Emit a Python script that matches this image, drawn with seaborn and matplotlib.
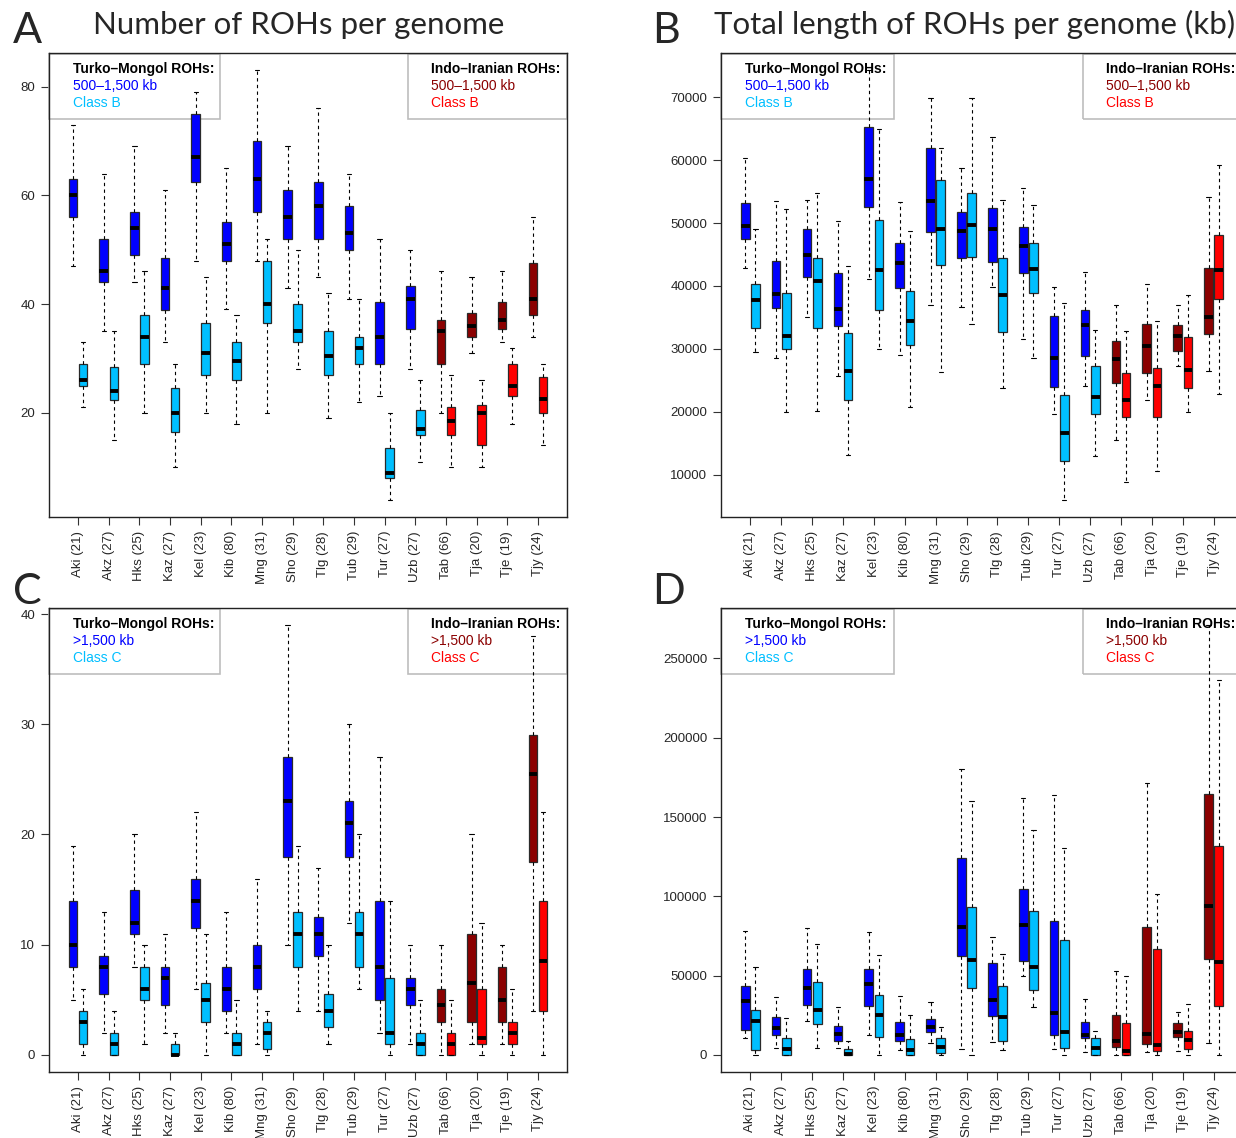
import numpy as np
import pandas as pd
import matplotlib
matplotlib.use("Agg")
import matplotlib.pyplot as plt
import seaborn as sns
from matplotlib.patches import Rectangle

# ---------------- data ----------------
populations = ["Aki (21)", "Akz (27)", "Hks (25)", "Kaz (27)", "Kel (23)", "Kib (80)",
               "Mng (31)", "Sho (29)", "Tlg (28)", "Tub (29)", "Tur (27)", "Uzb (27)",
               "Tab (66)", "Tja (20)", "Tje (19)", "Tjy (24)"]
turko_mongol = populations[:12]
indo_iranian = populations[12:]

# each entry: (lower whisker, Q1, median, Q3, upper whisker)
a_dark = [(47, 56, 60, 63, 73), (35, 44, 46, 52, 64), (44, 49, 54, 57, 69), (33, 38.9, 43, 48.5, 61),
          (48, 62.5, 67, 75, 79), (39, 48, 51, 55, 65), (48, 57, 63, 70, 83), (43, 52, 56, 61, 69),
          (45, 52, 58, 62.5, 76), (41, 50, 53, 58, 64), (23, 29, 34, 40.4, 52), (28, 35.5, 41, 43.4, 50),
          (20, 29, 35, 37, 46), (31, 34, 36, 38.4, 45), (33, 35.4, 37, 40.4, 46), (34, 38, 41, 47.5, 56)]
a_light = [(21, 25, 26, 29, 33), (15, 22.4, 24, 28.4, 35), (20, 29, 34, 38, 46), (10, 16.5, 20, 24.5, 29),
           (20, 27, 31, 36.5, 45), (18, 26, 29.5, 33, 38), (20, 36.5, 40, 48, 52), (28, 33, 35, 40, 50),
           (19, 27, 30.5, 35, 42), (22, 29, 32, 34, 41), (4, 8, 9, 13.5, 20), (11, 16, 17, 20.5, 26),
           (10, 16, 18.5, 21, 27), (10, 14, 20, 21.5, 26), (18, 23, 25, 29, 32), (14, 20, 22.5, 26.5, 29)]

b_dark = [(42800, 47500, 49500, 53200, 60300), (28600, 36500, 38700, 44000, 53500),
          (35000, 41500, 44900, 49000, 53600), (25700, 33600, 36400, 42100, 50300),
          (41100, 52500, 57000, 65200, 74300), (29100, 39600, 43600, 46800, 53400),
          (36900, 48500, 53500, 62000, 69800), (36600, 44400, 48800, 51700, 58700),
          (39900, 43800, 49000, 52400, 63600), (31600, 42000, 46300, 49300, 55600),
          (19600, 23900, 28600, 35200, 39800), (24100, 28900, 33800, 36200, 42200),
          (15500, 24600, 28400, 31300, 37000), (21800, 26100, 30500, 34000, 40300),
          (27300, 29600, 32000, 33800, 37000), (26400, 32300, 35000, 42800, 54200)]
b_light = [(29500, 33300, 37800, 40300, 49100), (19900, 29900, 32000, 38900, 52200),
           (20100, 33300, 40800, 44400, 54800), (13100, 21900, 26400, 32500, 43200),
           (30000, 36200, 42500, 50500, 64900), (20800, 30600, 34400, 39200, 48700),
           (26300, 43400, 49100, 56900, 62000), (33900, 44600, 49700, 54800, 69800),
           (23800, 32600, 38600, 44500, 53600), (28500, 38900, 42700, 46800, 52800),
           (6000, 12200, 16700, 22600, 37300), (13000, 19700, 22400, 27200, 33000),
           (8900, 19200, 21800, 26200, 32900), (10600, 19100, 24100, 27000, 34500),
           (19900, 23700, 26600, 31900, 38500), (22900, 38000, 42500, 48100, 59200)]

c_dark = [(5, 8, 10, 14, 19), (2, 5.5, 8, 9, 13), (8, 11, 12, 15, 20), (2, 4.5, 7, 8, 11),
          (6, 11.5, 14, 16, 22), (2, 4, 6, 8, 13), (1, 6, 8, 10, 16), (10, 18, 23, 27, 39),
          (4, 9, 11, 12.5, 17), (12, 18, 21, 23, 30), (2, 5, 8, 14, 27), (1, 4.5, 6, 7, 10),
          (0, 3, 4.5, 6, 10), (1, 3, 6.5, 11, 20), (1, 3, 5, 8, 10), (4, 17.5, 25.5, 29, 38)]
c_light = [(0, 1, 3, 4, 6), (0, 0, 1, 2, 4), (1, 5, 6, 8, 10), (0, 0, 0, 1, 2),
           (0, 3, 5, 6.5, 11), (0, 0, 1, 2, 5), (0, 0.5, 2, 3, 4), (4, 8, 11, 13, 19),
           (1, 2.5, 4, 5.5, 10), (6, 8, 11, 13, 20), (0, 1, 2, 7, 14), (0, 0, 1, 2, 5),
           (0, 0, 1, 2, 5), (0, 1, 1.5, 6, 12), (0, 1, 2, 3, 6), (0, 4, 8.5, 14, 22)]

d_dark = [(10700, 15800, 33800, 43300, 78400), (4000, 12600, 17000, 24000, 36300),
          (21400, 31300, 42000, 54200, 80000), (4000, 8400, 13200, 18300, 30300),
          (12200, 30500, 44700, 54200, 77700), (3200, 9000, 12800, 20800, 36800),
          (7600, 14500, 17400, 22300, 33600), (3400, 62200, 80500, 124000, 180500),
          (8200, 24400, 34500, 58000, 74000), (49600, 59000, 82100, 104600, 162000),
          (3400, 12400, 26300, 84500, 163900), (1900, 10300, 12200, 20800, 35100),
          (0, 4800, 9000, 25000, 52700), (1900, 7100, 13200, 80700, 171200),
          (2300, 11300, 14300, 20200, 26900), (7600, 60500, 94100, 164500, 271000)]
d_light = [(0, 2900, 21400, 28200, 55700), (0, 0, 3600, 10300, 23500),
           (4000, 19500, 28200, 46000, 70200), (0, 0, 300, 3800, 9000),
           (0, 11100, 25400, 37600, 63000), (0, 0, 3200, 9700, 24800),
           (0, 1300, 5000, 10700, 17400), (0, 42200, 59900, 93500, 160100),
           (3200, 9000, 24000, 43700, 63900), (30300, 41000, 55500, 90800, 141600),
           (0, 4000, 14300, 72500, 130500), (0, 0, 4000, 10900, 15100),
           (0, 0, 2700, 20200, 49800), (0, 2700, 6300, 66800, 101700),
           (0, 3800, 9500, 14900, 31900), (0, 31100, 58400, 131700, 236300)]

yticks_a = [20, 40, 60, 80]
yticks_b = [10000, 20000, 30000, 40000, 50000, 60000, 70000]
yticks_c = [0, 10, 20, 30, 40]
yticks_d = [0, 50000, 100000, 150000, 200000, 250000]

titles = ["Number of ROHs per genome", "Total length of ROHs per genome (kb)"]
size_labels = ["500\u20131,500 kb", ">1,500 kb"]
class_labels = ["Class B", "Class C"]

# ---------------- style ----------------
sns.set_style("ticks")
plt.rcParams["font.family"] = ["Liberation Sans", "DejaVu Sans"]

TM_DARK, TM_LIGHT = "#0000FF", "#00BFFF"
II_DARK, II_LIGHT = "#8B0000", "#FF0000"

W, H = 1236, 1138
fig = plt.figure(figsize=(W / 100, H / 100), dpi=100)


def make_df(dark, light):
    rows = []
    for pop, d, l in zip(populations, dark, light):
        for v in d:
            rows.append((pop, "dark", v))
        for v in l:
            rows.append((pop, "light", v))
    return pd.DataFrame(rows, columns=["pop", "cls", "val"])


def panel(rect, dark, light, yticks, size_lab, class_lab):
    ax = fig.add_axes(rect)
    df = make_df(dark, light)
    common = dict(x="pop", y="val", hue="cls", order=populations, hue_order=["dark", "light"],
                  width=0.66, gap=0.15, whis=(0, 100), saturation=1, linecolor="#2a2a2a",
                  linewidth=0.9, fliersize=0, legend=False, ax=ax,
                  whiskerprops=dict(color="black", linestyle=(0, (3, 3)), linewidth=0.8),
                  capprops=dict(color="black", linewidth=0.8),
                  medianprops=dict(color="black", linewidth=2.8))
    sns.boxplot(data=df[df["pop"].isin(turko_mongol)],
                palette={"dark": TM_DARK, "light": TM_LIGHT}, **common)
    sns.boxplot(data=df[df["pop"].isin(indo_iranian)],
                palette={"dark": II_DARK, "light": II_LIGHT}, **common)

    lo = min(min(t) for t in dark + light)
    hi = max(max(t) for t in dark + light)
    pad = 0.04 * (hi - lo)
    ax.set_ylim(lo - pad, hi + pad)
    ax.set_xlim(-0.95, len(populations) - 0.05)
    ax.set_yticks(yticks)
    ax.set_yticklabels([str(t) for t in yticks], fontsize=9.5)
    ax.set_xticks(range(len(populations)))
    ax.set_xticklabels(populations, rotation=90, fontsize=9.5)
    ax.set_xlabel("")
    ax.set_ylabel("")
    ax.tick_params(axis="both", length=6, width=0.8, color="#333333", pad=4)
    for s in ax.spines.values():
        s.set_visible(True)
        s.set_linewidth(1.0)
        s.set_color("#222222")

    # legends (transparent boxes)
    bx_h = 0.139
    for x0, tx, head, c1, c2 in [(0.0, 0.0463, "Turko\u2013Mongol ROHs:", TM_DARK, TM_LIGHT),
                                 (0.6927, 0.737, "Indo\u2013Iranian ROHs:", II_DARK, II_LIGHT)]:
        w = 0.331 if x0 == 0 else 1 - x0
        ax.add_patch(Rectangle((x0, 0.997 - bx_h), w, bx_h, transform=ax.transAxes,
                               facecolor="none", edgecolor="#bdbdbd", linewidth=1.2,
                               clip_on=False, zorder=1))
        ax.text(tx, 0.9655, head, transform=ax.transAxes, fontsize=10, fontweight="bold",
                color="black", va="center", ha="left")
        ax.text(tx, 0.9295, size_lab, transform=ax.transAxes, fontsize=10, color=c1,
                va="center", ha="left")
        ax.text(tx, 0.893, class_lab, transform=ax.transAxes, fontsize=10, color=c2,
                va="center", ha="left")
    return ax


def rect(left, top, width, height):
    return [left / W, 1 - (top + height) / H, width / W, height / H]


panel(rect(49, 53, 518, 464), a_dark, a_light, yticks_a, size_labels[0], class_labels[0])
panel(rect(721, 53, 522, 464), b_dark, b_light, yticks_b, size_labels[0], class_labels[0])
panel(rect(49, 608, 518, 464), c_dark, c_light, yticks_c, size_labels[1], class_labels[1])
panel(rect(721, 608, 522, 464), d_dark, d_light, yticks_d, size_labels[1], class_labels[1])

big = ["Lato", "Open Sans", "DejaVu Sans"]
for letter, x, y in [("A", 13, 43), ("B", 652, 43), ("C", 13, 604), ("D", 652, 604)]:
    fig.text(x / W, 1 - y / H, letter, fontsize=31, family=big, ha="left", va="baseline")
fig.text(299 / W, 1 - 34 / H, titles[0], fontsize=22.5, family=big, ha="center", va="baseline")
fig.text(714 / W, 1 - 34 / H, titles[1], fontsize=22.5, family=big, ha="left", va="baseline")

fig.savefig("out.png", dpi=100)
